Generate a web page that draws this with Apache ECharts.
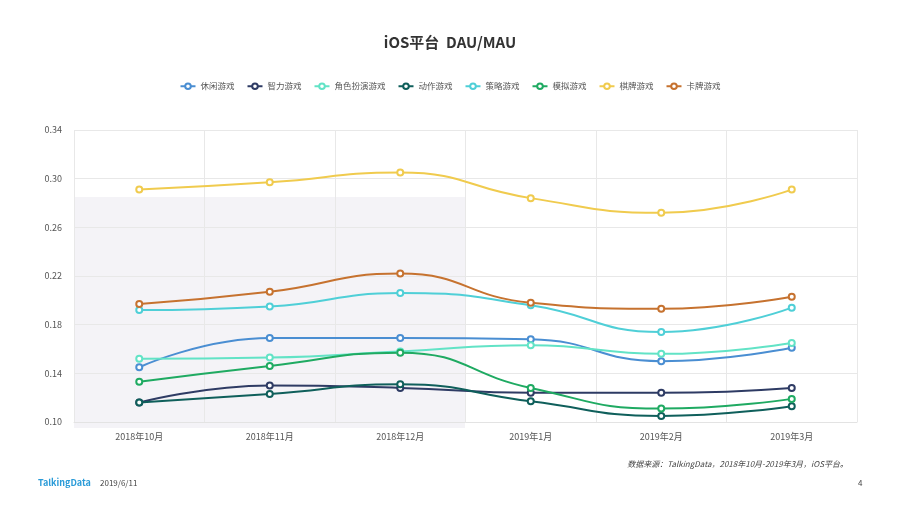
<!DOCTYPE html>
<html>
<head>
<meta charset="utf-8">
<script src="https://cdn.jsdelivr.net/npm/echarts@6/dist/echarts.min.js"></script>
<style>
html,body{margin:0;padding:0;background:#fff;}
#c{width:900px;height:505px;}
</style>
</head>
<body>
<div id="c"></div>
<script>
const categories = ['2018年10月','2018年11月','2018年12月','2019年1月','2019年2月','2019年3月'];
const seriesNames = ['休闲游戏','智力游戏','角色扮演游戏','动作游戏','策略游戏','模拟游戏','棋牌游戏','卡牌游戏'];
const casual   = [0.145, 0.169, 0.169, 0.168, 0.150, 0.161];
const puzzle   = [0.116, 0.130, 0.128, 0.124, 0.124, 0.128];
const rpg      = [0.152, 0.153, 0.158, 0.163, 0.156, 0.165];
const action   = [0.116, 0.123, 0.131, 0.117, 0.105, 0.113];
const strategy = [0.192, 0.195, 0.206, 0.196, 0.174, 0.194];
const simulate = [0.133, 0.146, 0.157, 0.128, 0.111, 0.119];
const board    = [0.291, 0.297, 0.305, 0.284, 0.272, 0.291];
const card     = [0.197, 0.207, 0.222, 0.198, 0.193, 0.203];
const yTicks   = [0.10, 0.14, 0.18, 0.22, 0.26, 0.30, 0.34];

const values = [casual, puzzle, rpg, action, strategy, simulate, board, card];
const colors = ['#4a8ed2','#2e3b64','#62e3c6','#0f5f5b','#4fcfd7','#1faa62','#f0cb4e','#c6722f'];
const font = '"Noto Sans CJK SC", "Noto Sans", sans-serif';

const chart = echarts.init(document.getElementById('c'), null, {renderer:'canvas'});
chart.setOption({
  backgroundColor:'#fff',
  textStyle:{fontFamily:font},
  title:{
    text:'iOS平台  DAU/MAU', left:'center', top:30,
    textStyle:{fontSize:15, fontWeight:'bold', color:'#333', fontFamily:font}
  },
  legend:{
    top:77, left:'center', itemWidth:15, itemHeight:7, itemGap:12,
    textStyle:{fontSize:8.5, color:'#555', fontFamily:font},
    data:seriesNames
  },
  grid:{left:74, right:43, top:130, bottom:83, containLabel:false},
  xAxis:{
    type:'category', data:categories, boundaryGap:true,
    axisLine:{show:true, lineStyle:{color:'#e3e3e3'}},
    axisTick:{show:false},
    axisLabel:{color:'#555', fontSize:9, margin:10, fontFamily:font},
    splitLine:{show:true, lineStyle:{color:'#e8e8e8'}}
  },
  yAxis:{
    type:'value', min:yTicks[0], max:yTicks[yTicks.length-1], interval:0.04,
    axisLine:{show:false}, axisTick:{show:false},
    axisLabel:{color:'#555', fontSize:9, margin:12, fontFamily:font,
      formatter:v=>v.toFixed(2)},
    splitLine:{show:true, lineStyle:{color:'#e8e8e8'}}
  },
  graphic:[
    {type:'rect', z:-10, shape:{x:74, y:197, width:391, height:231}, style:{fill:'#f4f3f7'}},
    {type:'text', right:52, top:460, style:{text:'数据来源：TalkingData，2018年10月-2019年3月，iOS平台。', font:'italic 8px '+font, fill:'#444'}},
    {type:'text', left:38, top:478, style:{text:'TalkingData', font:'bold 9px '+font, fill:'#2a9bd8'}},
    {type:'text', left:100, top:479, style:{text:'2019/6/11', font:'8px '+font, fill:'#444'}},
    {type:'text', left:858, top:479, style:{text:'4', font:'8px '+font, fill:'#444'}}
  ],
  series: seriesNames.map((n,i)=>({
    name:n, type:'line', data:values[i], smooth:0.5,
    symbol:'emptyCircle', symbolSize:6,
    lineStyle:{width:2, color:colors[i]},
    itemStyle:{color:colors[i], borderWidth:2, borderColor:colors[i]},
    emphasis:{disabled:true}
  }))
});
</script>
</body>
</html>
